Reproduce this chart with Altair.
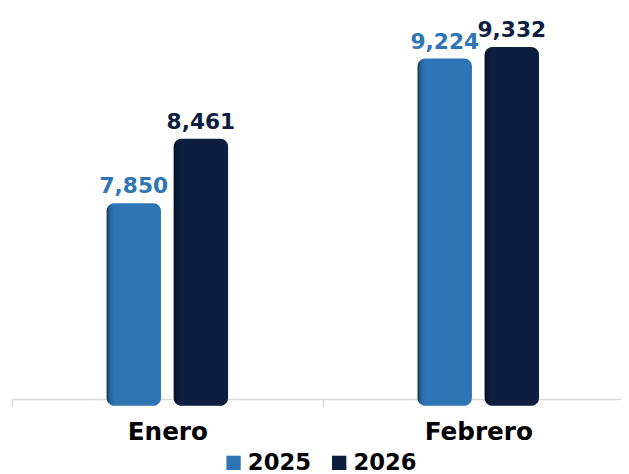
import altair as alt
import pandas as pd

months = ["Enero", "Febrero"]
years = ["2025", "2026"]
v2025 = [7850, 9224]
v2026 = [8461, 9332]
colors = ["#2E75B6", "#0E1E40"]
y_min, y_max = 5925, 9675

rows = []
for i, m in enumerate(months):
    rows.append({"mes": m, "anio": years[0], "valor": v2025[i]})
    rows.append({"mes": m, "anio": years[1], "valor": v2026[i]})
df = pd.DataFrame(rows)

FONT = "DejaVu Sans"

x = alt.X(
    "mes:N",
    sort=months,
    scale=alt.Scale(paddingInner=0.6095, paddingOuter=0.2841, align=0.536),
    axis=alt.Axis(
        title=None,
        labelAngle=0,
        ticks=True,
        tickOffset=-157.5,
        labelOffset=157.5,
        domainColor="#D9D9D9",
        tickColor="#D9D9D9",
        domainWidth=1.5,
        tickWidth=1.5,
        tickSize=8,
        offset=-7,
        labelFont=FONT,
        labelFontSize=25,
        labelFontWeight="bold",
        labelColor="#000000",
        labelBaseline="alphabetic",
        labelPadding=33,
    ),
)
xo = alt.XOffset("anio:N", sort=years, scale=alt.Scale(paddingInner=0.19, paddingOuter=0))
y = alt.Y("valor:Q", scale=alt.Scale(domain=[y_min, y_max], zero=False), axis=None)
color = alt.Color(
    "anio:N",
    sort=years,
    scale=alt.Scale(domain=years, range=colors),
    legend=alt.Legend(
        title=None,
        orient="none",
        direction="horizontal",
        legendX=213,
        legendY=446,
        symbolType="square",
        symbolSize=210,
        symbolStrokeWidth=0,
        symbolOpacity=1,
        labelFont=FONT,
        labelFontSize=23,
        labelFontWeight="bold",
        labelColor="#000000",
        labelOffset=3,
        columnPadding=16,
        padding=0,
    ),
)

bars = alt.Chart(df).mark_bar(cornerRadius=8).encode(
    x=x, xOffset=xo, y=y, y2=alt.datum(y_min), color=color
)
shade = alt.Chart(df).mark_bar(
    cornerRadius=8,
    color=alt.Gradient(
        gradient="linear",
        x1=0, x2=1, y1=0, y2=0,
        stops=[
            alt.GradientStop(color="rgba(0,0,0,0.55)", offset=0),
            alt.GradientStop(color="rgba(0,0,0,0.15)", offset=0.06),
            alt.GradientStop(color="rgba(0,0,0,0)", offset=0.14),
            alt.GradientStop(color="rgba(0,0,0,0)", offset=1),
        ],
    ),
).encode(x=x, xOffset=xo, y=y, y2=alt.datum(y_min))
labels = alt.Chart(df).mark_text(
    dy=-10, baseline="alphabetic", font=FONT, fontSize=22, fontWeight="bold"
).encode(
    x=x, xOffset=xo, y=y,
    text=alt.Text("valor:Q", format=","),
    color=alt.Color("anio:N", sort=years, scale=alt.Scale(domain=years, range=colors), legend=None),
)

chart = alt.layer(bars, shade, labels).properties(
    width=617,
    height=400,
    autosize="none",
    padding={"left": 4, "right": 0, "top": 0, "bottom": 66},
    background="white",
).configure_view(stroke=None)

chart.save("out.html", embed_options={"renderer": "svg", "actions": False})
